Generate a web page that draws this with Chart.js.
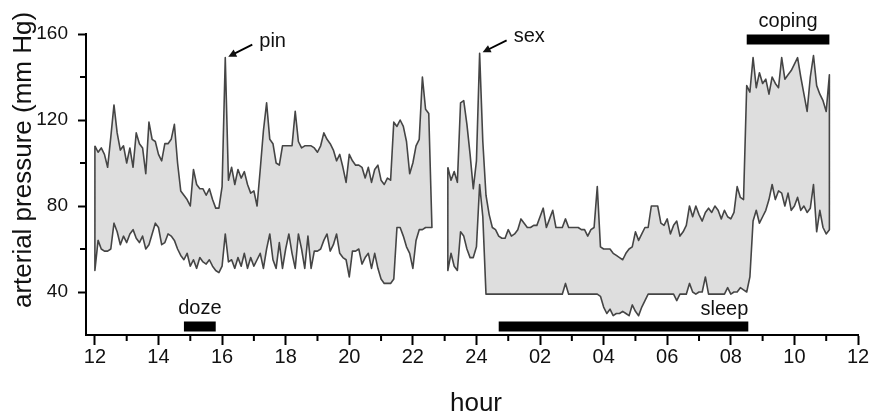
<!DOCTYPE html>
<html>
<head>
<meta charset="utf-8">
<script src="https://cdn.jsdelivr.net/npm/chart.js@4"></script>
<style>
  body { margin: 0; background: #fff; }
</style>
</head>
<body>
<canvas id="bp-chart" width="876" height="417"></canvas>
<script>
// ambulatory readings, one every 6 minutes (0.1 h)
const step = 0.1;
const dayStart = 12.0;
const nightStart = 23.1;

// afternoon / evening
const daySys = [
  108,105,107,104,98,112,127,114,106,108,
  100,107,98,114,109,107,95,119,111,110,
  104,101,109,109,111,118,100,87,85,83,
  80,97,90,88,88,85,88,83,79,79,
  89,149,92,98,90,97,93,96,90,86,
  87,80,97,115,128,111,109,100,99,108,
  108,108,108,124,110,107,108,108,108,107,
  105,108,114,111,109,106,101,104,98,91,
  104,101,99,99,98,93,98,91,97,99,
  92,90,93,92,119,117,120,117,110,95,
  100,108,111,140,125,123,70
];
const dayDia = [
  50,64,60,59,59,60,72,68,62,66,
  63,67,69,65,63,66,60,62,67,72,
  70,62,63,67,66,64,60,57,55,58,
  52,55,51,56,54,53,55,52,50,49,
  52,67,54,55,51,56,52,58,51,56,
  52,55,58,51,60,67,55,51,63,51,
  60,67,58,51,67,60,51,66,51,59,
  59,60,64,67,59,62,67,58,56,55,
  47,59,59,60,53,56,58,51,58,51,
  46,44,44,44,46,70,70,66,61,58,
  51,64,69,69,70,70,70
];

// night / next morning
const nightSys = [
  98,92,96,91,128,129,118,104,88,101,
  151,110,85,76,70,69,66,65,65,69,
  66,67,69,74,72,70,70,71,71,75,
  79,70,74,78,70,70,70,74,70,70,
  70,70,69,69,66,69,70,89,61,60,
  60,60,58,57,56,55,58,60,61,68,
  64,67,70,70,80,80,80,72,71,74,
  67,71,73,66,68,71,80,75,80,76,
  73,77,79,77,80,78,74,78,75,74,
  77,89,84,83,136,133,149,135,142,137,
  139,132,140,137,135,149,139,141,143,146,
  149,140,132,124,140,150,136,132,129,124,
  141
];
const nightDia = [
  50,58,52,50,68,66,60,56,56,61,
  90,75,39,39,39,39,39,39,39,39,
  39,39,39,39,39,39,39,39,39,39,
  39,39,39,39,39,39,39,44,39,39,
  39,39,39,39,39,39,39,39,38,33,
  30,32,29,30,30,31,30,29,34,31,
  29,33,36,39,39,39,39,39,39,39,
  39,39,36,39,39,39,44,40,39,40,
  40,47,39,39,39,39,39,39,42,39,
  40,40,42,41,40,47,73,78,72,75,
  78,83,90,83,87,86,80,86,78,80,
  84,78,80,77,79,90,68,78,70,67,
  69
];

const xTickHours = [12, 14, 16, 18, 20, 22, 24, 26, 28, 30, 32, 34, 36];
const xTickLabels = ['12', '14', '16', '18', '20', '22', '24', '02', '04', '06', '08', '10', '12'];
const yTickValues = [40, 80, 120, 160];

const periods = ['doze', 'sleep', 'coping'];
const periodFrom = [14.8, 24.7, 32.5];
const periodTo = [15.8, 32.55, 35.1];
const periodLevel = [24, 24, 157.5];

const events = ['pin', 'sex'];
const eventHour = [16.1, 24.1];
const eventValue = [149, 151];

const FONT = '"Liberation Sans", Arial, Helvetica, sans-serif';

const hoursFrom = (start, n) => Array.from({length: n}, (_, i) => +(start + i * step).toFixed(2));

// outline of the band: systolic forward, diastolic back
function band(hours, sys, dia) {
  const pts = hours.map((h, i) => ({x: h, y: sys[i]}));
  for (let i = hours.length - 1; i >= 0; i--) pts.push({x: hours[i], y: dia[i]});
  pts.push({x: hours[0], y: sys[0]});
  return pts;
}

const dayHours = hoursFrom(dayStart, daySys.length);
const nightHours = hoursFrom(nightStart, nightSys.length);

const bandStyle = {
  borderColor: '#454545',
  borderWidth: 1.6,
  borderJoinStyle: 'round',
  backgroundColor: '#dedede',
  fill: 'shape',
  pointRadius: 0,
  tension: 0
};

const datasets = [
  {label: 'day', data: band(dayHours, daySys, dayDia), ...bandStyle},
  {label: 'night', data: band(nightHours, nightSys, nightDia), ...bandStyle}
];
periods.forEach((name, i) => {
  datasets.push({
    label: name,
    data: [{x: periodFrom[i], y: periodLevel[i]}, {x: periodTo[i], y: periodLevel[i]}],
    borderColor: '#000',
    borderWidth: 10,
    borderCapStyle: 'butt',
    pointRadius: 0,
    fill: false,
    clip: false
  });
});

const decorations = {
  id: 'decorations',
  afterDraw(chart) {
    const {ctx, scales: {x, y}} = chart;
    ctx.save();
    ctx.strokeStyle = '#000';
    ctx.lineWidth = 2;

    // minor ticks
    ctx.beginPath();
    for (let h = 13; h < 36; h += 2) {
      const px = x.getPixelForValue(h);
      ctx.moveTo(px, y.bottom);
      ctx.lineTo(px, y.bottom + 6);
    }
    for (let v = 60; v < 160; v += 40) {
      const py = y.getPixelForValue(v);
      ctx.moveTo(x.left - 6, py);
      ctx.lineTo(x.left, py);
    }
    ctx.stroke();

    ctx.fillStyle = '#111';

    // axis titles
    ctx.font = '26px ' + FONT;
    ctx.textAlign = 'center';
    ctx.textBaseline = 'alphabetic';
    ctx.fillText('hour', 476, 411);
    ctx.save();
    ctx.translate(31, 160);
    ctx.rotate(-Math.PI / 2);
    ctx.fillText('arterial pressure (mm Hg)', 0, 0);
    ctx.restore();

    // event arrows
    ctx.font = '20px ' + FONT;
    ctx.lineWidth = 1.8;
    events.forEach((name, i) => {
      const px = x.getPixelForValue(eventHour[i]);
      const py = y.getPixelForValue(eventValue[i]);
      const tipX = px + 3, tipY = py - 1;
      const tailX = px + 27, tailY = py - 13;
      const ang = Math.atan2(tipY - tailY, tipX - tailX);
      ctx.beginPath();
      ctx.moveTo(tailX, tailY);
      ctx.lineTo(tipX - 4 * Math.cos(ang), tipY - 4 * Math.sin(ang));
      ctx.stroke();
      ctx.beginPath();
      ctx.moveTo(tipX, tipY);
      ctx.lineTo(tipX - 8 * Math.cos(ang) + 4 * Math.sin(ang), tipY - 8 * Math.sin(ang) - 4 * Math.cos(ang));
      ctx.lineTo(tipX - 8 * Math.cos(ang) - 4 * Math.sin(ang), tipY - 8 * Math.sin(ang) + 4 * Math.cos(ang));
      ctx.closePath();
      ctx.fill();
      ctx.textAlign = 'left';
      ctx.fillText(name, tailX + 7, tailY + 2);
    });

    // period labels above their bars
    periods.forEach((name, i) => {
      const x0 = x.getPixelForValue(periodFrom[i]);
      const x1 = x.getPixelForValue(periodTo[i]);
      const top = y.getPixelForValue(periodLevel[i]) - 5;
      if (name === 'sleep') {
        ctx.textAlign = 'right';
        ctx.fillText(name, x1, top - 6);
      } else {
        ctx.textAlign = 'center';
        ctx.fillText(name, (x0 + x1) / 2, top - 7);
      }
    });
    ctx.restore();
  }
};

new Chart(document.getElementById('bp-chart'), {
  type: 'line',
  data: {datasets},
  plugins: [decorations],
  options: {
    responsive: false,
    animation: false,
    devicePixelRatio: 1,
    events: [],
    layout: {padding: {top: 34, right: 18, left: 0, bottom: 0}},
    plugins: {legend: {display: false}, tooltip: {enabled: false}},
    scales: {
      x: {
        type: 'linear',
        min: 11.72,
        max: 36,
        afterBuildTicks: (axis) => { axis.ticks = xTickHours.map(v => ({value: v})); },
        afterFit: (axis) => { axis.height = 82; },
        ticks: {
          autoSkip: false,
          maxRotation: 0,
          padding: 0,
          color: '#111',
          font: {family: FONT, size: 20},
          callback: (value, index) => xTickLabels[index]
        },
        grid: {drawOnChartArea: false, drawTicks: true, tickLength: 10, tickWidth: 2, tickColor: '#000'},
        border: {display: true, color: '#000', width: 2}
      },
      y: {
        min: 20,
        max: 160,
        afterBuildTicks: (axis) => { axis.ticks = yTickValues.map(v => ({value: v})); },
        afterFit: (axis) => { axis.width = 86; },
        ticks: {
          autoSkip: false,
          padding: 10,
          color: '#111',
          font: {family: FONT, size: 19}
        },
        grid: {drawOnChartArea: false, drawTicks: true, tickLength: 8, tickWidth: 2, tickColor: '#000'},
        border: {display: true, color: '#000', width: 2}
      }
    }
  }
});
</script>
</body>
</html>
